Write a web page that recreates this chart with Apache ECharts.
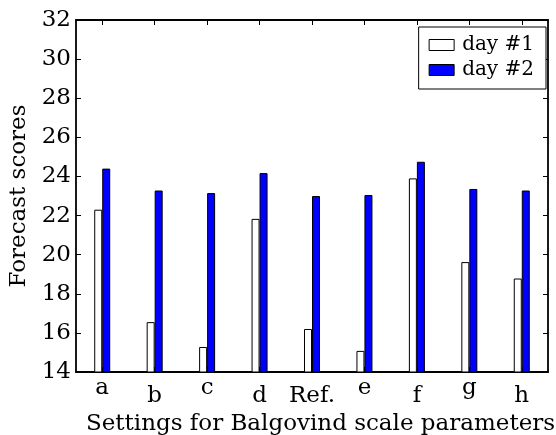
<!DOCTYPE html>
<html><head><meta charset="utf-8">
<script src="https://cdn.jsdelivr.net/npm/echarts@6/dist/echarts.min.js"></script>
<style>html,body{margin:0;padding:0;background:#fff}#c{width:556px;height:435px}</style>
</head><body><div id="c"></div>
<script>
const categories = ['a','b','c','d','Ref.','e','f','g','h'];
const day1 = [22.3, 16.55, 15.28, 21.83, 16.2, 15.08, 23.9, 19.62, 18.78];
const day2 = [24.4, 23.28, 23.15, 24.17, 23.0, 23.05, 24.75, 23.36, 23.28];
const yTicks = {min: 14, max: 32, interval: 2};
const FONT = 'DejaVu Serif';

// matplotlib aligns the tick labels by their ink top: labels with tall glyphs sit lower
const tall = /[A-Zbdfhklt]/;
const xData = categories.map(c => tall.test(c)
  ? {value: c, textStyle: {padding: [8, 0, 0, 0]}}
  : {value: c});

const chart = echarts.init(document.getElementById('c'), null, {renderer: 'canvas'});
const axisLine = {show: true, lineStyle: {color: '#000', width: 1.8}};
chart.setOption({
  animation: false,
  backgroundColor: '#fff',
  textStyle: {fontFamily: FONT},
  grid: {left: 76, top: 20, right: 8, bottom: 63, containLabel: false, outerBoundsMode: 'none'},
  legend: {
    right: 10, top: 27, orient: 'vertical',
    icon: 'rect',
    itemWidth: 25, itemHeight: 11, itemGap: 5,
    padding: [8, 12, 9, 10],
    borderColor: '#000', borderWidth: 1, backgroundColor: '#fff',
    textStyle: {fontFamily: FONT, fontSize: 20, color: '#000', padding: [0, 0, 0, 3]},
    data: [
      {name: 'day #1', itemStyle: {color: '#fff', borderColor: '#000', borderWidth: 1}},
      {name: 'day #2', itemStyle: {color: '#0000ff', borderColor: '#000', borderWidth: 1}}
    ]
  },
  xAxis: [{
    type: 'category', data: xData, position: 'bottom',
    axisLine: axisLine,
    axisTick: {show: true, inside: true, alignWithLabel: true, length: 5, lineStyle: {color: '#000', width: 1}},
    axisLabel: {fontFamily: FONT, fontSize: 23, color: '#000', margin: 5, interval: 0, verticalAlign: 'top'},
    name: 'Settings for Balgovind scale parameters', nameLocation: 'middle', nameGap: 40,
    nameTextStyle: {fontFamily: FONT, fontSize: 23, color: '#000', padding: [0, 0, 0, 17]}
  }, {
    type: 'category', data: categories, position: 'top',
    axisLine: axisLine,
    axisTick: {show: true, inside: true, alignWithLabel: true, length: 5, lineStyle: {color: '#000', width: 1}},
    axisLabel: {show: false}
  }],
  yAxis: [{
    type: 'value', min: yTicks.min, max: yTicks.max, interval: yTicks.interval, position: 'left',
    axisLine: axisLine,
    axisTick: {show: true, inside: true, length: 5, lineStyle: {color: '#000', width: 1}},
    splitLine: {show: false},
    axisLabel: {fontFamily: FONT, fontSize: 23, color: '#000', margin: 5},
    name: 'Forecast scores', nameLocation: 'middle', nameGap: 44,
    nameTextStyle: {fontFamily: FONT, fontSize: 23, color: '#000'}
  }, {
    type: 'value', min: yTicks.min, max: yTicks.max, interval: yTicks.interval, position: 'right',
    axisLine: axisLine,
    axisTick: {show: true, inside: true, length: 5, lineStyle: {color: '#000', width: 1}},
    splitLine: {show: false},
    axisLabel: {show: false}
  }],
  series: [{
    name: 'day #1', type: 'bar', data: day1, barWidth: 8, barGap: '0%',
    itemStyle: {color: '#fff', borderColor: '#000', borderWidth: 1}
  }, {
    name: 'day #2', type: 'bar', data: day2, barWidth: 8, barGap: '0%',
    itemStyle: {color: '#0000ff', borderColor: '#000', borderWidth: 1}
  }]
});
</script></body></html>
